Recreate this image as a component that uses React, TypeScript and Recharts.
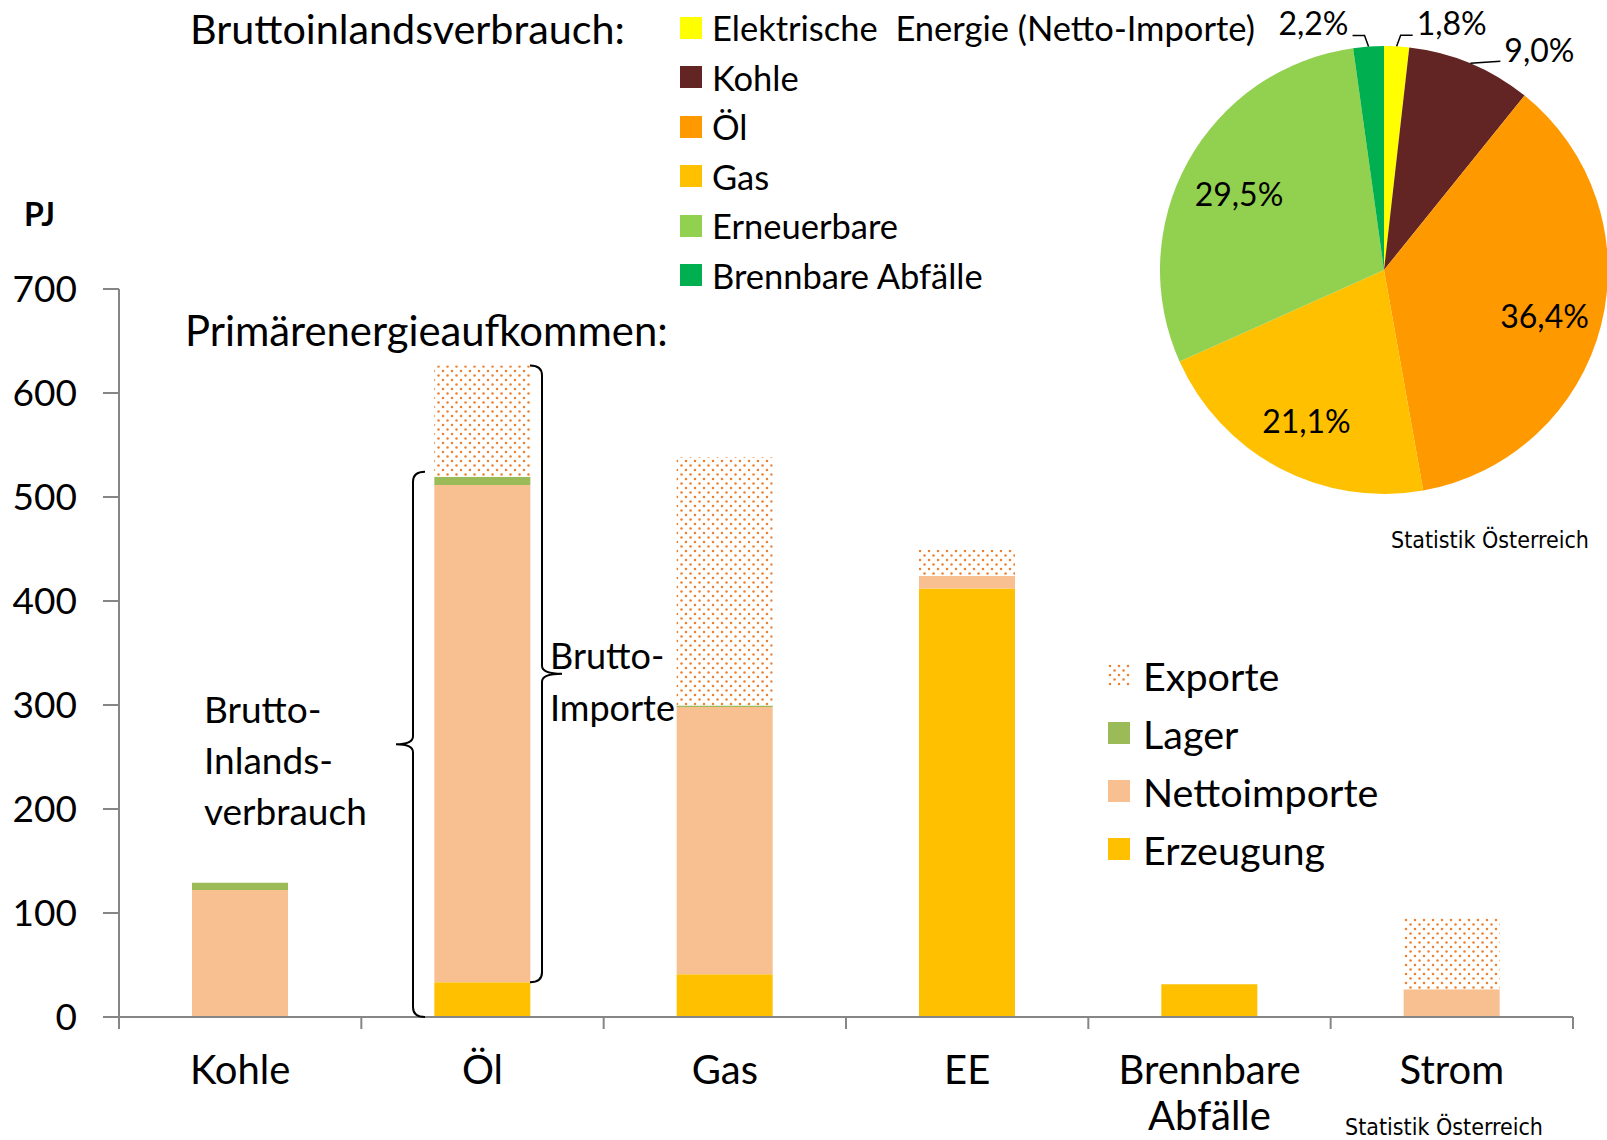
import React from 'react';
import { BarChart, Bar, XAxis, YAxis, Legend, PieChart, Pie, Cell } from 'recharts';

// Primärenergieaufkommen (PJ), stacked per energy source
const categories = ['Kohle', 'Öl', 'Gas', 'EE', 'Brennbare\nAbfälle', 'Strom'];
const erzeugung = [0, 33.5, 41, 412, 31.5, 0];
const nettoimporte = [122, 478, 257, 12, 0, 26.6];
const lager = [7, 8, 1.5, -2, 0, 0];
const exporte = [0, 107, 239, 25, 0, 69];
const yTicks = [0, 100, 200, 300, 400, 500, 600, 700];

// Bruttoinlandsverbrauch shares (%)
const pieNames = [
  'Elektrische  Energie (Netto-Importe)',
  'Kohle',
  'Öl',
  'Gas',
  'Erneuerbare',
  'Brennbare Abfälle',
];
const pieShares = [1.8, 9.0, 36.4, 21.1, 29.5, 2.2];
const pieColors = ['#FFFF00', '#632523', '#FF9900', '#FFC000', '#92D050', '#00B050'];

const seriesNames = ['Erzeugung', 'Nettoimporte', 'Lager', 'Exporte'];
const seriesColors = ['#FFC000', '#F8C090', '#9BBB59', 'url(#exportDots)'];

const barData = categories.map((name, i) => ({
  name,
  Erzeugung: erzeugung[i],
  Nettoimporte: nettoimporte[i],
  Lager: lager[i],
  Exporte: exporte[i],
}));

const pieData = pieNames.map((name, i) => ({ name, value: pieShares[i] }));

const FONT = 'Lato, "Open Sans", sans-serif';
const NARROW = '"Liberation Sans Narrow", "DejaVu Sans Condensed", sans-serif';
const AXIS_GREY = '#868686';

const W = 1607;
const H = 1140;
const PLOT_L = 119;
const PLOT_R = 1573;
const PLOT_T = 289;
const PLOT_B = 1017;
const BAND = (PLOT_R - PLOT_L) / categories.length;
const Y_MAX = 700;
const yPos = (v: number) => PLOT_B - (v * (PLOT_B - PLOT_T)) / Y_MAX;

function CategoryTick(props: any) {
  const { x, payload, index } = props;
  const lines = String(payload.value).split('\n');
  const left = x - BAND / 2;
  return (
    <g>
      <line x1={left} x2={left} y1={PLOT_B} y2={PLOT_B + 12} stroke={AXIS_GREY} strokeWidth={2} />
      {index === categories.length - 1 && (
        <line x1={x + BAND / 2} x2={x + BAND / 2} y1={PLOT_B} y2={PLOT_B + 12} stroke={AXIS_GREY} strokeWidth={2} />
      )}
      <text x={x} y={1084} textAnchor="middle" fontSize={40} fontFamily={FONT} fill="#000">
        {lines.map((l, i) => (
          <tspan key={i} x={x} dy={i === 0 ? 0 : 46}>
            {l}
          </tspan>
        ))}
      </text>
    </g>
  );
}

function BarLegend() {
  const rows = seriesNames.map((n, i) => ({ n, c: seriesColors[i] })).reverse();
  return (
    <div style={{ fontFamily: FONT, fontSize: 39.5, color: '#000' }}>
      {rows.map((r) => (
        <div key={r.n} style={{ height: 58, display: 'flex', alignItems: 'center' }}>
          <svg width={22} height={22} style={{ marginRight: 13 }}>
            <rect width={22} height={22} fill={r.c} />
          </svg>
          <span>{r.n}</span>
        </div>
      ))}
    </div>
  );
}

function PieLegend() {
  return (
    <div style={{ fontFamily: FONT, fontSize: 34.5, color: '#000' }}>
      {pieNames.map((n, i) => (
        <div key={n} style={{ height: 49.5, display: 'flex', alignItems: 'center' }}>
          <div style={{ width: 22, height: 22, background: pieColors[i], marginRight: 10 }} />
          <span style={{ whiteSpace: 'pre' }}>{n}</span>
        </div>
      ))}
    </div>
  );
}

const RAD = Math.PI / 180;

function renderPieLabel(props: any) {
  const { cx, cy, midAngle, outerRadius, index } = props;
  const text = pieShares[index].toFixed(1).replace('.', ',') + '%';
  const cos = Math.cos(-midAngle * RAD);
  const sin = Math.sin(-midAngle * RAD);
  if (pieShares[index] > 15) {
    const r = outerRadius * 0.74;
    return (
      <text x={cx + r * cos} y={cy + r * sin + 4} textAnchor="middle" dominantBaseline="central"
        fontSize={32} fontFamily={FONT} fill="#000">
        {text}
      </text>
    );
  }
  const ex = cx + outerRadius * cos;
  const ey = cy + outerRadius * sin;
  const sign = ex >= cx ? 1 : -1;
  let pts: number[][];
  let tx: number;
  let ty: number;
  if (Math.abs(ex - cx) < 40) {
    const p1 = [ex + sign * 4, ey - 11];
    const p2 = [p1[0] + sign * 12, p1[1]];
    pts = [[ex, ey], p1, p2];
    tx = p2[0] + sign * 4;
    ty = p1[1] - 13;
  } else {
    const p1 = [ex + sign * 30, ey - 2];
    pts = [[ex, ey], p1];
    tx = p1[0] + sign * 4;
    ty = ey - 14;
  }
  return (
    <g>
      <polyline points={pts.map((p) => p.join(',')).join(' ')} fill="none" stroke="#000" strokeWidth={1.5} />
      <text x={tx} y={ty} textAnchor={sign > 0 ? 'start' : 'end'} dominantBaseline="central"
        fontSize={32} fontFamily={FONT} fill="#000">
        {text}
      </text>
    </g>
  );
}

function Brace({ x, top, bottom, dir, depth }: { x: number; top: number; bottom: number; dir: number; depth: number }) {
  // dir = -1 opening brace "{", dir = 1 closing brace "}"
  const m = (top + bottom) / 2;
  const end = x - dir * 12;
  const tip = x + dir * depth;
  const d = [
    `M ${end} ${top}`,
    `Q ${x} ${top} ${x} ${top + 10}`,
    `L ${x} ${m - 8}`,
    `Q ${x} ${m} ${tip} ${m}`,
    `Q ${x} ${m} ${x} ${m + 8}`,
    `L ${x} ${bottom - 10}`,
    `Q ${x} ${bottom} ${end} ${bottom}`,
  ].join(' ');
  return <path d={d} fill="none" stroke="#000" strokeWidth={2} />;
}

export default function App() {
  const oelInland = erzeugung[1] + nettoimporte[1] + lager[1];
  const oelTotal = oelInland + exporte[1];
  return (
    <div style={{ position: 'absolute', left: 0, top: 0, width: W, height: H, background: '#fff' }}>
      <div style={{ position: 'absolute', left: 0, top: 0 }}>
        <BarChart
          width={W}
          height={H}
          data={barData}
          stackOffset="sign"
          barSize={96}
          margin={{ top: PLOT_T, right: W - PLOT_R, bottom: 0, left: 0 }}
        >
          <defs>
            <pattern id="exportDots" patternUnits="userSpaceOnUse" width={9} height={9}>
              <rect width={9} height={9} fill="#fff" />
              <circle cx={2} cy={2} r={1.25} fill="#EE7F2D" />
              <circle cx={6.5} cy={6.5} r={1.25} fill="#EE7F2D" />
            </pattern>
          </defs>
          <XAxis
            dataKey="name"
            height={H - PLOT_B}
            interval={0}
            tickLine={false}
            axisLine={{ stroke: AXIS_GREY, strokeWidth: 2 }}
            tick={<CategoryTick />}
          />
          <YAxis
            width={PLOT_L}
            domain={[0, Y_MAX]}
            ticks={yTicks}
            allowDataOverflow
            tickSize={16}
            tickMargin={26}
            axisLine={{ stroke: AXIS_GREY, strokeWidth: 2 }}
            tickLine={{ stroke: AXIS_GREY, strokeWidth: 2 }}
            tick={{ fill: '#000', fontSize: 37, fontFamily: FONT }}
          />
          {seriesNames.map((s, i) => (
            <Bar key={s} dataKey={s} stackId="a" fill={seriesColors[i]} isAnimationActive={false} />
          ))}
          <Legend
            layout="vertical"
            align="center"
            verticalAlign="middle"
            content={<BarLegend />}
            wrapperStyle={{ left: 1108, top: 646, width: 320 }}
          />
        </BarChart>
      </div>
      <div style={{ position: 'absolute', left: 0, top: 0 }}>
        <PieChart width={W} height={560} margin={{ top: 0, right: 0, bottom: 0, left: 0 }}>
          <Pie
            data={pieData}
            dataKey="value"
            nameKey="name"
            cx={1384}
            cy={270}
            outerRadius={224}
            startAngle={90}
            endAngle={-270}
            stroke="none"
            labelLine={false}
            label={renderPieLabel}
            isAnimationActive={false}
          >
            {pieData.map((entry, index) => (
              <Cell key={`cell-${index}`} fill={pieColors[index]} />
            ))}
          </Pie>
          <Legend
            layout="vertical"
            align="center"
            verticalAlign="middle"
            content={<PieLegend />}
            wrapperStyle={{ left: 680, top: 3, width: 640 }}
          />
        </PieChart>
      </div>
      <svg width={W} height={H} style={{ position: 'absolute', left: 0, top: 0, pointerEvents: 'none' }}>
        <g fontFamily={FONT} fill="#000">
          <text x={190} y={44} fontSize={41.3}>Bruttoinlandsverbrauch:</text>
          <text x={185} y={346} fontSize={41.8}>Primärenergieaufkommen:</text>
          <text x={24} y={226} fontSize={32} fontWeight="bold">PJ</text>
          <text x={204} y={723} fontSize={37}>
            <tspan x={204}>Brutto-</tspan>
            <tspan x={204} dy={51}>Inlands-</tspan>
            <tspan x={204} dy={51}>verbrauch</tspan>
          </text>
          <text x={550} y={669} fontSize={36}>
            <tspan x={550}>Brutto-</tspan>
            <tspan x={550} dy={52}>Importe</tspan>
          </text>
        </g>
        <Brace x={413} top={yPos(oelInland) - 5} bottom={PLOT_B} dir={-1} depth={17} />
        <Brace x={542} top={yPos(oelTotal)} bottom={yPos(erzeugung[1])} dir={1} depth={20} />
        <g fontFamily={NARROW} fill="#000" fontSize={23}>
          <text x={1589} y={548} textAnchor="end">Statistik Österreich</text>
          <text x={1543} y={1135} textAnchor="end">Statistik Österreich</text>
        </g>
      </svg>
    </div>
  );
}
